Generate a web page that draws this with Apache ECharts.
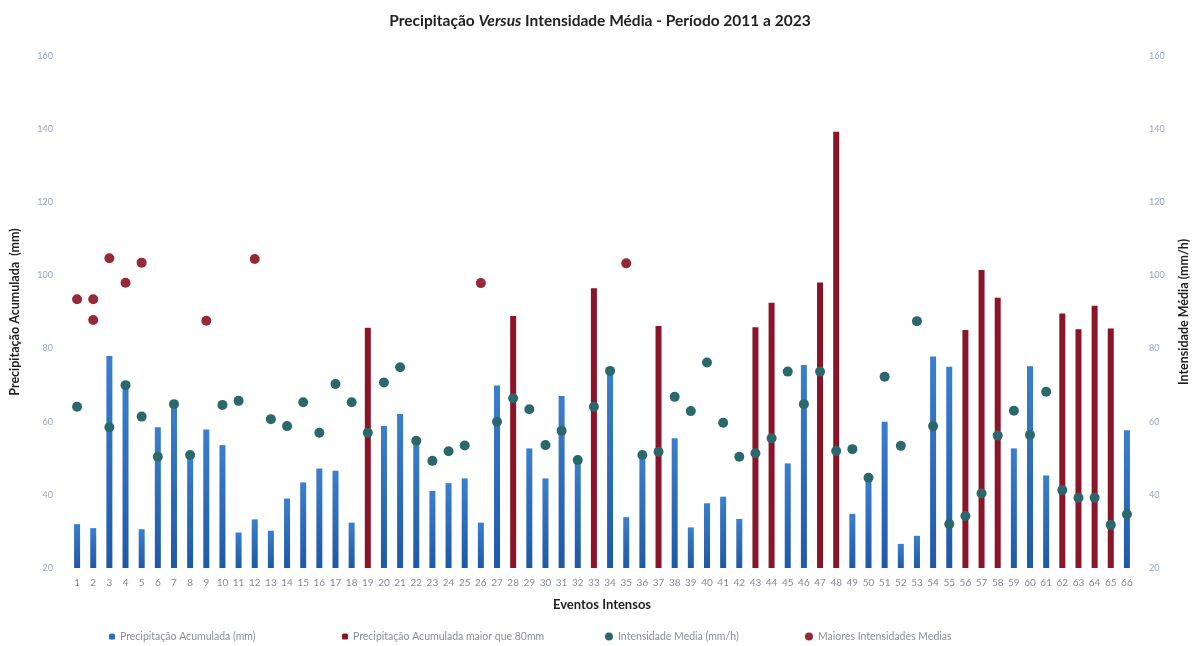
<!DOCTYPE html>
<html><head><meta charset="utf-8">
<script src="https://cdn.jsdelivr.net/npm/echarts@6/dist/echarts.min.js"></script>
<style>html,body{margin:0;padding:0;background:#fff}#c{width:1200px;height:646px}</style>
</head><body><div id="c"></div>
<script>
const events = Array.from({length: 66}, (_, i) => String(i + 1));
const precipitation = [32,30.9,78,71,30.6,58.5,65.5,51.4,57.9,53.6,29.7,33.3,30.2,39,43.4,47.2,46.6,32.4,
  85.7,58.8,62.1,55,41.1,43.2,44.5,32.4,69.9,88.9,52.7,44.5,67,50,96.5,73.9,33.9,50.4,86.2,55.5,31.1,37.7,
  39.5,33.4,85.8,92.5,48.6,75.5,98.1,139.3,34.8,45,60,26.6,28.8,77.8,75,85.1,101.5,93.9,52.7,75.2,45.3,89.6,
  85.3,91.7,85.5,57.7];
const intensity = [64.1,null,58.5,70,61.4,50.4,64.8,50.9,null,64.6,65.7,null,60.7,58.8,65.3,57,70.3,65.3,
  57,70.7,74.9,54.8,49.3,51.9,53.5,null,60,66.4,63.4,53.6,57.5,49.5,64.1,73.9,null,50.9,51.8,66.8,62.9,76.2,
  59.7,50.4,51.4,55.5,73.7,64.8,73.7,52,52.5,44.7,72.3,53.4,87.5,58.8,32,34.2,40.4,56.2,63,56.4,68.2,41.3,
  39.2,39.2,31.8,34.7];
// highest mean intensities: [event number, value]
const topIntensityEvents = [1, 2, 2, 3, 4, 5, 9, 12, 26, 35];
const topIntensityValues = [93.5, 93.5, 87.8, 104.7, 98, 103.5, 87.6, 104.5, 97.9, 103.3];
const yTicks = [20, 40, 60, 80, 100, 120, 140, 160];
const threshold = 80;

const names = ['Precipitação Acumulada (mm)', 'Precipitação Acumulada maior que 80mm',
  'Intensidade Media (mm/h)', 'Maiores Intensidades Medias'];
const blue = new echarts.graphic.LinearGradient(0, 0, 0, 1, [
  {offset: 0, color: '#3b7fcc'}, {offset: 1, color: '#1f59a6'}]);
const red = '#8a1528', teal = '#2b686c', redDot = '#952a36';
const font = 'Lato, "Open Sans", sans-serif';

const chart = echarts.init(document.getElementById('c'));
const legendBase = (name, left, icon, w) => ({
  data: [name], left: left, top: 626, icon: icon, itemWidth: w, itemHeight: w, itemGap: 4,
  textStyle: {color: '#8a8f99', fontSize: 10.5, fontFamily: font}, selectedMode: false
});
chart.setOption({
  animation: false,
  title: {
    text: '{b|Precipitação }{i|Versus}{b| Intensidade Média - Período 2011 a 2023}',
    left: 'center', top: 8,
    textStyle: {rich: {
      b: {fontSize: 15.5, fontWeight: 'bold', color: '#222', fontFamily: font},
      i: {fontSize: 15.5, fontWeight: 'bold', fontStyle: 'italic', color: '#222', fontFamily: font}
    }}
  },
  legend: [
    legendBase(names[0], 104, 'roundRect', 6),
    legendBase(names[1], 337, 'roundRect', 6),
    legendBase(names[2], 600, 'circle', 8),
    legendBase(names[3], 800, 'circle', 8)
  ],
  grid: {left: 68, right: 65, top: 56, bottom: 78},
  xAxis: {
    type: 'category', data: events, boundaryGap: true,
    axisLine: {show: false}, axisTick: {show: false},
    axisLabel: {color: '#858c98', fontSize: 10, fontFamily: font, interval: 0, margin: 10},
    name: 'Eventos Intensos', nameLocation: 'middle', nameGap: 30,
    nameTextStyle: {fontSize: 13, fontWeight: 'bold', color: '#222', fontFamily: font}
  },
  yAxis: [0, 1].map(i => ({
    type: 'value', min: yTicks[0], max: yTicks[yTicks.length - 1], interval: 20,
    position: i ? 'right' : 'left',
    splitLine: {show: false}, axisLine: {show: false}, axisTick: {show: false},
    axisLabel: {color: '#9aa6bd', fontSize: 9, fontFamily: font, margin: i ? 14 : 16},
    name: i ? 'Intensidade Média (mm/h)' : 'Precipitação Acumulada  (mm)',
    nameLocation: 'middle', nameRotate: 90, nameGap: i ? 42 : 48,
    nameTextStyle: {fontSize: 12.5, fontWeight: 'bold', color: '#222', fontFamily: font}
  })),
  series: [
    {name: names[0], type: 'bar', barWidth: 6, barGap: '-100%',
      itemStyle: {color: blue},
      data: precipitation.map(v => v <= threshold ? v : '-')},
    {name: names[1], type: 'bar', barWidth: 6, barGap: '-100%',
      itemStyle: {color: red},
      data: precipitation.map(v => v > threshold ? v : '-')},
    {name: names[2], type: 'scatter', yAxisIndex: 1, symbolSize: 10,
      itemStyle: {color: teal, opacity: 1}, data: intensity.map(v => v === null ? '-' : v)},
    {name: names[3], type: 'scatter', yAxisIndex: 1, symbolSize: 10,
      itemStyle: {color: redDot, opacity: 1},
      data: topIntensityEvents.map((e, i) => [String(e), topIntensityValues[i]])}
  ]
});
</script></body></html>
